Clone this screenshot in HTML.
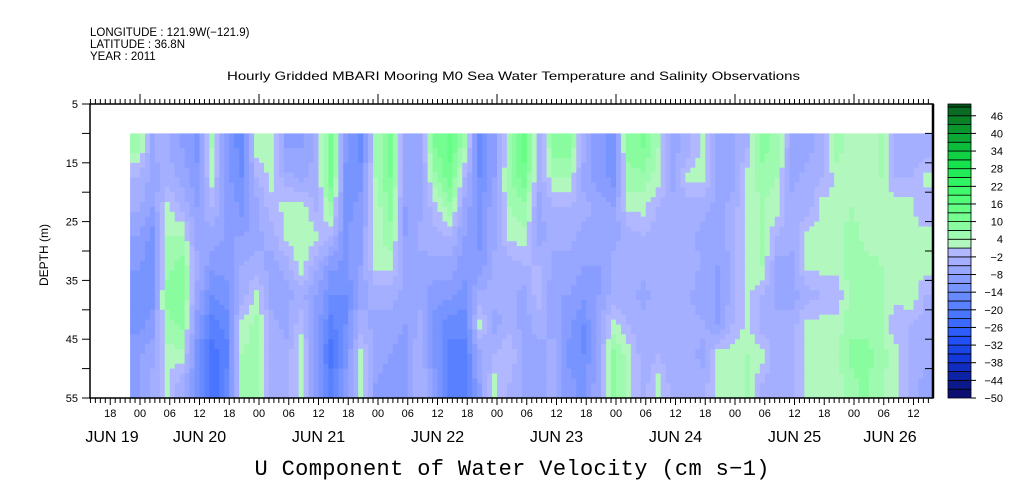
<!DOCTYPE html>
<html><head><meta charset="utf-8">
<style>
html,body{margin:0;padding:0;background:#fff;}
svg{display:block;font-family:"Liberation Sans",sans-serif;}
</style></head>
<body>
<svg id="chart" width="1009" height="504" viewBox="0 0 1009 504">
  <g font-size="11.5" fill="#000">
    <text x="90" y="36">LONGITUDE : 121.9W(−121.9)</text>
    <text x="90" y="48">LATITUDE : 36.8N</text>
    <text x="90" y="60">YEAR : 2011</text>
  </g>
  <text x="227" y="80" font-size="12" textLength="573" lengthAdjust="spacingAndGlyphs">Hourly Gridded MBARI Mooring M0 Sea Water Temperature and Salinity Observations</text>
  <g id="heat"></g>
  <g id="axes" stroke="#000" fill="none"></g>
  <g id="labels" fill="#000"></g>
  <g id="cbar"></g>
  <text x="48" y="255" font-size="12" text-anchor="middle" transform="rotate(-90 48 255)">DEPTH (m)</text>
  <text x="512" y="475" font-family="Liberation Mono, monospace" font-size="22" text-anchor="middle" textLength="515">U Component of Water Velocity (cm s−1)</text>
</svg>
<script>
// ---- data ----
const startHour = -2;
const stepHours = 3;
const depthTops = [10,15,20,25,30,35,40,45,50];
const depthStep = 5;
const u10 = [5,-5,-4,-8,-12,4,-10,-16,2,3,-8,-8,-4,12,-10,-16,4,10,-6,-6,10,14,4,-14,-8,4,14,-4,8,8,-4,-10,-12,8,10,4,-6,-4,3,-6,-6,-2,8,6,-6,-6,-4,6,2,2,4,-4,-4,-4];
const u15 = [-2,-6,-4,-6,-10,2,-10,-14,-2,2,-4,-6,-4,12,-12,-12,4,10,-6,-8,6,12,-2,-14,-8,6,12,-4,4,4,-6,-10,-12,6,6,2,-6,2,2,-6,-6,2,6,4,-6,-4,-2,2,2,4,4,-2,-2,2];
const u20 = [-4,-8,2,-3,-8,-2,-8,-12,-6,0,2,3,-3,6,-12,-10,2,8,-8,-6,0,6,-6,-12,-6,4,6,-6,-2,-2,-4,-6,-8,2,2,-2,-4,-4,-4,-6,-4,2,4,2,-4,-4,2,2,4,2,2,2,2,-2];
const u25 = [-8,-12,4,4,-6,-6,-8,-8,-6,-4,2,4,2,-2,-12,-8,2,6,-8,-4,-3,-2,-8,-12,-6,2,3,-6,-4,-4,-6,-6,-6,-4,-2,-4,-4,-4,-6,-6,-4,2,4,-2,-4,2,2,2,6,2,2,2,2,2];
const u30 = [-10,-14,6,8,-4,-10,-10,-5,-4,-6,-4,3,-4,-10,-12,-8,2,2,-6,-6,-6,-6,-10,-10,-4,-4,-2,-2,-6,-6,-8,-8,-4,-4,-4,-4,-2,-2,-6,-8,-4,2,4,-6,-6,2,2,2,6,6,4,2,2,2];
const u35 = [-14,-12,8,10,-6,-14,-12,-4,2,-6,-6,-4,-8,-14,-14,-6,-4,-4,-6,-6,-10,-10,-12,-4,-4,-4,-6,0,-8,-8,-10,-8,-4,-4,-6,-4,-2,-4,-8,-8,-4,2,-2,-6,-6,-4,-2,-2,6,6,4,2,4,-2];
const u40 = [-12,-10,6,8,-10,-18,-16,2,5,-4,-6,0,-8,-18,-14,-4,-6,-6,-8,-4,-12,-16,-16,2,-6,-4,-6,-4,-6,-10,-14,-6,2,-2,-4,-4,-4,-4,-4,-8,-2,2,-4,-4,-4,2,2,2,6,6,4,-2,-2,-4];
const u45 = [-9,-6,3,3,-12,-22,-18,4,6,-2,-4,3,-10,-22,-12,2,-6,-8,-10,-2,-12,-18,-18,-6,-2,1,-6,-6,-4,-12,-14,-6,8,2,-4,-2,-4,-4,-6,2,2,4,2,-4,-2,2,4,4,8,8,6,2,-4,-4];
const u50 = [-8,-4,1,-4,-12,-22,-16,4,6,-4,-4,3,-10,-18,-10,2,-8,-10,-10,-2,-10,-18,-18,-8,2,-2,-6,-6,-4,-10,-12,-6,8,2,-4,2,-4,-4,-4,2,2,4,-2,-4,-4,2,2,2,6,8,4,2,-4,-6];
const uRows = [u10,u15,u20,u25,u30,u35,u40,u45,u50];
const tickLabels6h = ['18','00','06','12','18','00','06','12','18','00','06','12','18','00','06','12','18','00','06','12','18','00','06','12','18','00','06','12'];
const firstTickHour = -6;
const dateLabels = ['JUN 19','JUN 20','JUN 21','JUN 22','JUN 23','JUN 24','JUN 25','JUN 26'];
const depthTicks = [5,15,25,35,45,55];
const cbarLabels = [46,40,34,28,22,16,10,4,-2,-8,-14,-20,-26,-32,-38,-44,-50];

// ---- scales ----
const X0=140, PXH=119/24;
const xOf = h => X0 + h*PXH;
const yOf = d => 104 + (d-5)*(294/50);
const NS='http://www.w3.org/2000/svg';
function mk(tag, parent, attrs){const e=document.createElementNS(NS,tag);for(const k in attrs)e.setAttribute(k,attrs[k]);parent.appendChild(e);return e;}

function lerp(a,b,t){return a.map((v,i)=>Math.round(v+(b[i]-v)*t));}
function colorFor(v){
  let c;
  if(v>=1){
    const k=Math.min(Math.floor((v-1)/3),16);
    const stops=[[178,248,190],[130,252,155],[90,254,125],[50,245,100],[20,225,75],[10,180,55],[10,135,40],[8,85,28]];
    const p=k/16*(stops.length-1);const i=Math.min(Math.floor(p),stops.length-2);
    c=lerp(stops[i],stops[i+1],p-i);
  } else {
    const k=Math.min(Math.floor((1-v)/3),17);
    const stops=[[178,184,255],[145,162,255],[105,140,255],[70,115,255],[35,85,250],[18,55,215],[12,28,150],[8,10,90]];
    const p=k/17*(stops.length-1);const i=Math.min(Math.floor(p),stops.length-2);
    c=lerp(stops[i],stops[i+1],p-i);
  }
  return 'rgb('+c.join(',')+')';
}

const heat=document.getElementById('heat');
const nC=u10.length, nR=uRows.length;
function val(r,c){r=Math.max(0,Math.min(nR-1,r));c=Math.max(0,Math.min(nC-1,c));return uRows[r][c];}
function sample(rf,cf){
  const r0=Math.floor(rf), c0=Math.floor(cf), tr=rf-r0, tc=cf-c0;
  return (val(r0,c0)*(1-tc)+val(r0,c0+1)*tc)*(1-tr)+(val(r0+1,c0)*(1-tc)+val(r0+1,c0+1)*tc)*tr;
}
const SX=3, SY=6;
for(let r=0;r<nR;r++){
  for(let c=0;c<nC;c++){
    const cell=mk('g',heat,{});
    
    
    const xa=xOf(startHour+c*stepHours), xb=Math.min(xOf(startHour+(c+1)*stepHours),933);
    const ya=yOf(depthTops[r]), yb=yOf(depthTops[r]+depthStep);
    for(let i=0;i<SX;i++)for(let j=0;j<SY;j++){
      const cf=c+(i+0.5)/SX-0.5, rf=r+(j+0.5)/SY-0.5;
      const v=sample(rf,cf);
      const x1=xa+(xb-xa)*i/SX, x2=xa+(xb-xa)*(i+1)/SX;
      const y1=ya+(yb-ya)*j/SY, y2=ya+(yb-ya)*(j+1)/SY;
      mk('rect',cell,{x:x1.toFixed(2),y:y1.toFixed(2),width:(x2-x1+0.6).toFixed(2),height:(y2-y1+0.6).toFixed(2),fill:colorFor(v)});
    }
  }
}

const axes=document.getElementById('axes');
mk('rect',axes,{x:90,y:104,width:843,height:294,'stroke-width':1.5,});
mk('line',axes,{x1:933,y1:104,x2:933,y2:398,'stroke-width':2.5});
for(let h=-10;h<=160;h++){
  const x=xOf(h); if(x<90||x>933)continue;
  const big=((h%24)+24)%24===0, mid=((h%6)+6)%6===0;
  mk('line',axes,{x1:x,y1:104,x2:x,y2:104-(big?10:5),'stroke-width':1});
  mk('line',axes,{x1:x,y1:398,x2:x,y2:398+(mid?7:5),'stroke-width':1});
}
for(let d=5;d<=55;d+=5){
  const y=yOf(d);
  mk('line',axes,{x1:90,y1:y,x2:82,y2:y,'stroke-width':1});
  mk('line',axes,{x1:933,y1:y,x2:925,y2:y,'stroke-width':1});
}
const labels=document.getElementById('labels');
depthTicks.forEach(d=>{
  const t=mk('text',labels,{x:78,y:yOf(d)+4,'font-size':11,'text-anchor':'end'});
  
  
  t.textContent=d;
});
tickLabels6h.forEach((s,i)=>{
  const t=mk('text',labels,{x:xOf(firstTickHour+6*i),y:417,'font-size':11,'text-anchor':'middle'});
  
  
  t.textContent=s;
});
dateLabels.forEach((s,i)=>{
  let x=xOf(-12+24*i);
  if(i===0)x=112; if(i===dateLabels.length-1)x=890;
  const t=mk('text',labels,{x:x,y:442,'font-size':16,'text-anchor':'middle'});
  
  
  t.textContent=s;
});

const cb=document.getElementById('cbar');
const cbY = v => 398 - (v+50)*2.94;
for(let v=-50; v<50; v+=3){
  const y1=cbY(Math.min(v+3,50)), y2=cbY(v);
  const b=mk('rect',cb,{x:948,y:y1,width:23,height:y2-y1,fill:colorFor(v+1.5),stroke:'#000','stroke-width':0.8});
  
  
}
cbarLabels.forEach(v=>{
  mk('line',cb,{x1:971,y1:cbY(v),x2:976,y2:cbY(v),stroke:'#000'});
  const t=mk('text',cb,{x:1003,y:cbY(v)+4,'font-size':11,'text-anchor':'end'});
  
  
  t.textContent=v<0?'−'+(-v):v;
});
</script>
</body></html>
